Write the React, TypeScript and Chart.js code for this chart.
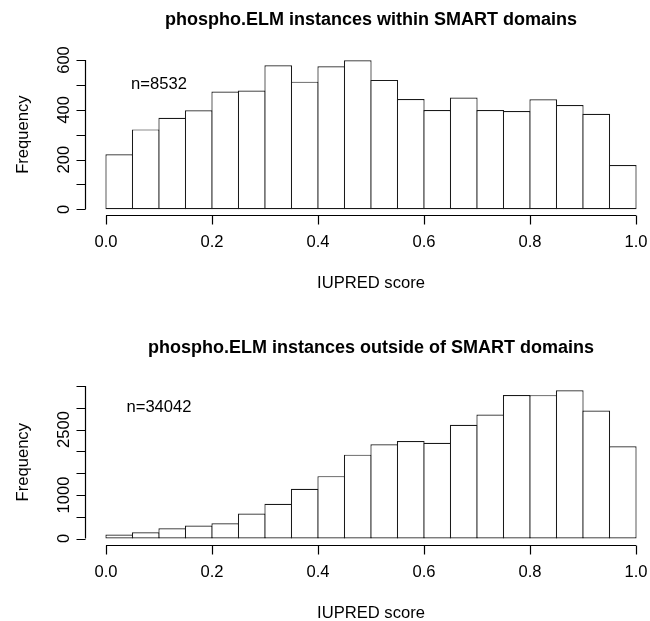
import React, { useEffect, useRef } from "react";
import { Chart, registerables } from "chart.js";

Chart.register(...registerables);

// ---- data ----
const binCenters = [
  0.025, 0.075, 0.125, 0.175, 0.225, 0.275, 0.325, 0.375, 0.425, 0.475,
  0.525, 0.575, 0.625, 0.675, 0.725, 0.775, 0.825, 0.875, 0.925, 0.975,
];
const withinCounts = [
  221, 321, 368, 398, 473, 477, 579, 513, 575, 599,
  520, 443, 399, 449, 399, 395, 442, 419, 384, 178,
];
const outsideCounts = [
  90, 145, 236, 297, 350, 571, 799, 1142, 1431, 1925,
  2161, 2237, 2199, 2610, 2846, 3295, 3290, 3402, 2938, 2116,
];

const xTickValues = [0, 0.2, 0.4, 0.6, 0.8, 1.0];
const xTickLabels = ["0.0", "0.2", "0.4", "0.6", "0.8", "1.0"];

const topYTickValues = [0, 100, 200, 300, 400, 500, 600];
const topYTickLabels = ["0", "", "200", "", "400", "", "600"];

const bottomYTickValues = [0, 500, 1000, 1500, 2000, 2500, 3000, 3500];
const bottomYTickLabels = ["0", "", "1000", "", "", "2500", "", ""];

const topTitle = "phospho.ELM instances within SMART domains";
const bottomTitle = "phospho.ELM instances outside of SMART domains";
const xAxisTitle = "IUPRED score";
const yAxisTitle = "Frequency";
const topNote = "n=8532";
const bottomNote = "n=34042";

const FONT_FAMILY = '"Liberation Sans", Arial, Helvetica, sans-serif';
const LINE_W = 1.2;

const rAxesPlugin = {
  id: "rAxes",
  afterDraw(chart: any, _args: any, o: any) {
    const ctx = chart.ctx as CanvasRenderingContext2D;
    const xs = chart.scales.x;
    const ys = chart.scales.y;
    const area = chart.chartArea;
    const TICK = 9;
    ctx.save();
    ctx.strokeStyle = "#000";
    ctx.fillStyle = "#000";
    ctx.lineWidth = LINE_W;

    // x axis (R style, offset below the plot)
    const axY = Math.round(area.bottom + o.xGap) + 0.5;
    const xt: number[] = o.xTicks;
    ctx.beginPath();
    ctx.moveTo(xs.getPixelForValue(xt[0]), axY);
    ctx.lineTo(xs.getPixelForValue(xt[xt.length - 1]), axY);
    xt.forEach((v: number) => {
      const px = Math.round(xs.getPixelForValue(v)) + 0.5;
      ctx.moveTo(px, axY);
      ctx.lineTo(px, axY + TICK);
    });
    ctx.stroke();
    ctx.font = "16.6px " + FONT_FAMILY;
    ctx.textAlign = "center";
    ctx.textBaseline = "middle";
    xt.forEach((v: number, i: number) => {
      ctx.fillText(o.xLabels[i], xs.getPixelForValue(v), axY + 27);
    });
    ctx.fillText(o.xTitle, xs.getPixelForValue(0.5), axY + 68);

    // y axis (R style, offset left of the plot)
    const axX = Math.round(area.left - o.yGap) + 0.5;
    const yt: number[] = o.yTicks;
    ctx.beginPath();
    ctx.moveTo(axX, ys.getPixelForValue(yt[0]));
    ctx.lineTo(axX, ys.getPixelForValue(yt[yt.length - 1]));
    yt.forEach((v: number) => {
      const py = Math.round(ys.getPixelForValue(v)) + 0.5;
      ctx.moveTo(axX, py);
      ctx.lineTo(axX - TICK, py);
    });
    ctx.stroke();
    ctx.textBaseline = "alphabetic";
    yt.forEach((v: number, i: number) => {
      const lab = o.yLabels[i];
      if (!lab) return;
      ctx.save();
      ctx.translate(axX - 16.5, ys.getPixelForValue(v));
      ctx.rotate(-Math.PI / 2);
      ctx.fillText(lab, 0, 0);
      ctx.restore();
    });
    ctx.save();
    const midY =
      (ys.getPixelForValue(yt[0]) + ys.getPixelForValue(yt[yt.length - 1])) / 2;
    ctx.translate(axX - 58, midY);
    ctx.rotate(-Math.PI / 2);
    ctx.fillText(o.yTitle, 0, 0);
    ctx.restore();

    // note text placed at data coordinates
    ctx.textBaseline = "middle";
    ctx.fillText(o.note, xs.getPixelForValue(o.noteX), ys.getPixelForValue(o.noteY));

    // main title
    ctx.font = "bold 18px " + FONT_FAMILY;
    ctx.fillText(o.title, xs.getPixelForValue(0.5), o.titleY);
    ctx.restore();
  },
};

type PanelProps = {
  counts: number[];
  yMax: number;
  yTicks: number[];
  yLabels: string[];
  title: string;
  note: string;
  noteY: number;
  titleY: number;
  height: number;
  padTop: number;
  padBottom: number;
};

function Panel(p: PanelProps) {
  const ref = useRef<HTMLCanvasElement | null>(null);
  useEffect(() => {
    if (!ref.current) return;
    const chart = new Chart(ref.current, {
      type: "bar",
      data: {
        datasets: [
          {
            data: binCenters.map((x, i) => ({ x, y: p.counts[i] })),
            backgroundColor: "#ffffff",
            borderColor: "#1a1a1a",
            borderWidth: LINE_W,
            borderSkipped: false,
            barPercentage: 1 + LINE_W / 26.5,
            categoryPercentage: 1,
            clip: false,
          } as any,
        ],
      },
      options: {
        animation: false,
        responsive: false,
        maintainAspectRatio: false,
        events: [],
        layout: {
          padding: { left: 106, right: 14, top: p.padTop, bottom: p.padBottom },
        },
        scales: {
          x: { type: "linear", min: 0, max: 1, display: false, offset: false },
          y: { type: "linear", min: 0, max: p.yMax, display: false },
        },
        plugins: {
          legend: { display: false },
          tooltip: { enabled: false },
          title: { display: false },
          rAxes: {
            xGap: 6,
            yGap: 21,
            xTicks: xTickValues,
            xLabels: xTickLabels,
            yTicks: p.yTicks,
            yLabels: p.yLabels,
            xTitle: xAxisTitle,
            yTitle: yAxisTitle,
            note: p.note,
            noteX: 0.1,
            noteY: p.noteY,
            title: p.title,
            titleY: p.titleY,
          },
        } as any,
      },
      plugins: [rAxesPlugin],
    });
    return () => chart.destroy();
  }, []);
  return (
    <canvas
      ref={ref}
      width={650}
      height={p.height}
      style={{ display: "block", width: 650, height: p.height }}
    />
  );
}

export default function App() {
  return (
    <div
      style={{
        position: "absolute",
        left: 0,
        top: 0,
        width: 650,
        height: 621,
        background: "#ffffff",
      }}
    >
      <Panel
        counts={withinCounts}
        yMax={600}
        yTicks={topYTickValues}
        yLabels={topYTickLabels}
        title={topTitle}
        note={topNote}
        noteY={500}
        titleY={20}
        height={310}
        padTop={60}
        padBottom={100.7}
      />
      <Panel
        counts={outsideCounts}
        yMax={3500}
        yTicks={bottomYTickValues}
        yLabels={bottomYTickLabels}
        title={bottomTitle}
        note={bottomNote}
        noteY={3000}
        titleY={38}
        height={311}
        padTop={76}
        padBottom={82.5}
      />
    </div>
  );
}
